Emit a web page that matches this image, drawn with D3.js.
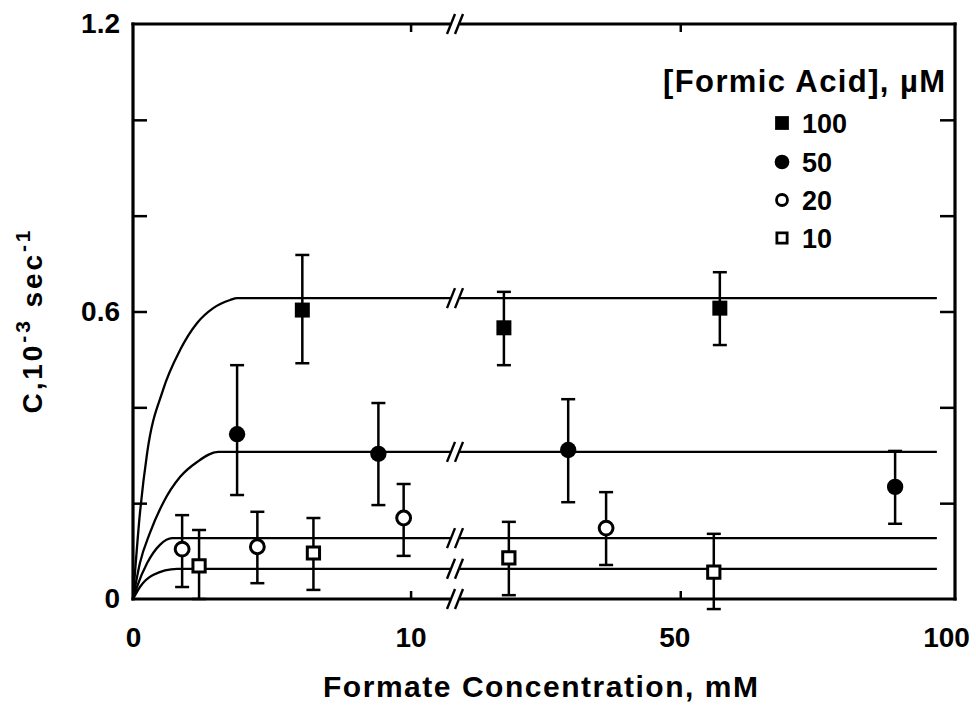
<!DOCTYPE html>
<html>
<head>
<meta charset="utf-8">
<script src="https://cdn.jsdelivr.net/npm/d3@7"></script>
<style>
  body { margin: 0; background: #fff; }
  svg { display: block; }
  text { font-family: "Liberation Sans", Arial, Helvetica, sans-serif; font-weight: bold; fill: #000; }
</style>
</head>
<body>
<div id="chart"></div>
<script>
// ---- values ----
// legend: [Formic Acid], µM
const seriesNames = ["100", "50", "20", "10"];

// points: [formate mM, C, error low, error high]
const pts100 = [[6.10, 0.603, 0.492, 0.718], [17.9, 0.566, 0.488, 0.641], [57.2, 0.607, 0.530, 0.682]];
const pts50 = [[3.75, 0.344, 0.217, 0.488], [8.84, 0.303, 0.196, 0.409], [29.6, 0.311, 0.202, 0.417], [89.1, 0.234, 0.157, 0.309]];
const pts20 = [[1.77, 0.104, 0.025, 0.175], [4.48, 0.109, 0.033, 0.182], [9.75, 0.169, 0.090, 0.240], [36.5, 0.148, 0.071, 0.223]];
const pts10 = [[2.38, 0.069, 0.0, 0.144], [6.50, 0.096, 0.019, 0.169], [18.8, 0.086, 0.008, 0.161], [56.1, 0.056, -0.021, 0.136]];

// fitted curves, rising part up to where they level off
const fit100 = [[0, 0], [0.25, 0.179], [0.51, 0.305], [1.08, 0.436], [1.70, 0.520], [2.31, 0.576], [2.89, 0.607], [3.50, 0.624], [3.75, 0.628]];
const fit50 = [[0, 0], [0.25, 0.075], [0.61, 0.138], [1.08, 0.200], [1.70, 0.255], [2.31, 0.286], [3.07, 0.307]];
const fit20 = [[0, 0], [0.14, 0.025], [0.51, 0.075], [0.97, 0.113], [1.41, 0.127]];
const fit10 = [[0, 0], [0.25, 0.025], [0.72, 0.050], [1.59, 0.063]];
const plateaus = [0.628, 0.307, 0.127, 0.063];
const fitEnd = 96.7;

const yMinorTicks = [0.2, 0.4, 0.6, 0.8, 1.0];
const yLabelTicks = [0, 0.6, 1.2];
const xLeftTicks = [0, 10];
const xRightTicks = [50, 100];

const allPts = [pts100, pts50, pts20, pts10];
const allFits = [fit100, fit50, fit20, fit10];

// ---- layout ----
const width = 976, height = 708;
const svg = d3.select("#chart").append("svg")
  .attr("width", width)
  .attr("height", height)
  .style("background", "#fff");

// broken x axis: two linear pieces meeting at the "//"
const xBreakVal = 11.6;
const xLeft = d3.scaleLinear().domain([0, xBreakVal]).range([133, 455]);
const xRight = d3.scaleLinear().domain([9, 100]).range([455, 955]);
const x = (v) => (v <= xBreakVal ? xLeft(v) : xRight(v));
const y = d3.scaleLinear().domain([0, 1.2]).range([599, 24]);

const x0 = xLeft.range()[0], x1 = xRight.range()[1];
const y0 = y.range()[0], y1 = y.range()[1];
const xBreak = xLeft.range()[1];

// marker styles per series
const shapes = [d3.symbolSquare, d3.symbolCircle, d3.symbolCircle, d3.symbolSquare];
const fills = ["#000", "#000", "#fff", "#fff"];
const sizes = [225, 210, 150, 150];
const strokes = [0, 0, 3, 3];

// ---- fitted lines ----
const line = d3.line()
  .x((d) => xLeft(d[0]))
  .y((d) => y(d[1]))
  .curve(d3.curveMonotoneX);

const fitG = svg.append("g").attr("fill", "none").attr("stroke", "#000").attr("stroke-width", 2.3);
allFits.forEach((fit, i) => {
  fitG.append("path").attr("d", line(fit.concat([[xBreakVal, plateaus[i]]])));
  fitG.append("line")
    .attr("x1", xRight(xRight.domain()[0]))
    .attr("x2", xRight(fitEnd))
    .attr("y1", y(plateaus[i]))
    .attr("y2", y(plateaus[i]));
});

// ---- frame ----
const frame = svg.append("g").attr("stroke", "#000").attr("stroke-width", 3.2).attr("stroke-linecap", "square");
frame.append("line").attr("x1", x0).attr("x2", x0).attr("y1", y0).attr("y2", y1);
frame.append("line").attr("x1", x1).attr("x2", x1).attr("y1", y0).attr("y2", y1);
frame.append("line").attr("x1", x0).attr("x2", x1).attr("y1", y0).attr("y2", y0);
frame.append("line").attr("x1", x0).attr("x2", x1).attr("y1", y1).attr("y2", y1);

// "//" break marks on the axis lines and each plateau
function drawBreak(cy) {
  const g = svg.append("g");
  g.append("rect")
    .attr("x", xBreak - 5).attr("y", cy - 3)
    .attr("width", 10).attr("height", 6)
    .attr("fill", "#fff");
  [-4, 4].forEach((off) => {
    g.append("line")
      .attr("x1", xBreak + off - 4).attr("y1", cy + 10)
      .attr("x2", xBreak + off + 4).attr("y2", cy - 10)
      .attr("stroke", "#000").attr("stroke-width", 2.4);
  });
}
[0, 1.2].concat(plateaus).forEach((v) => drawBreak(y(v)));

// ---- ticks (inward) ----
function styleAxis(sel) {
  sel.select(".domain").remove();
  sel.selectAll("line").attr("stroke", "#000").attr("stroke-width", 2.5);
  sel.selectAll("text").attr("font-size", 28).attr("fill", "#000")
    .attr("font-family", '"Liberation Sans", Arial, sans-serif').attr("font-weight", "bold");
}

svg.append("g").attr("transform", `translate(${x0},0)`)
  .call(d3.axisRight(y).tickValues(yMinorTicks).tickSize(14).tickFormat(""))
  .call(styleAxis);
svg.append("g").attr("transform", `translate(${x1},0)`)
  .call(d3.axisLeft(y).tickValues(yMinorTicks).tickSize(15).tickFormat(""))
  .call(styleAxis);

[[xLeft, [10]], [xRight, [50]]].forEach(([sc, vals]) => {
  svg.append("g").attr("transform", `translate(0,${y0})`)
    .call(d3.axisTop(sc).tickValues(vals).tickSize(8).tickFormat(""))
    .call(styleAxis);
  svg.append("g").attr("transform", `translate(0,${y1})`)
    .call(d3.axisBottom(sc).tickValues(vals).tickSize(8).tickFormat(""))
    .call(styleAxis);
});

// ---- tick labels ----
svg.append("g").attr("transform", `translate(${x0},0)`)
  .call(d3.axisLeft(y).tickValues(yLabelTicks).tickSize(0).tickPadding(13).tickFormat(d3.format("")))
  .call(styleAxis);

svg.append("g").attr("transform", `translate(0,${y0})`)
  .call(d3.axisBottom(xLeft).tickValues(xLeftTicks).tickSize(0).tickPadding(28))
  .call(styleAxis);
const xRightLabels = svg.append("g").attr("transform", `translate(0,${y0})`)
  .call(d3.axisBottom(xRight).tickValues(xRightTicks).tickSize(0).tickPadding(28))
  .call(styleAxis);
// last label sits against the window edge: pull it in like the original
xRightLabels.selectAll(".tick text").filter((d) => d === 100).attr("dx", -9);
xRightLabels.selectAll(".tick text").filter((d) => d === 50).attr("dx", -6);

// ---- error bars + markers ----
const capW = 7;
allPts.forEach((pts, i) => {
  const g = svg.append("g");
  const eb = g.selectAll(".err").data(pts).join("g")
    .attr("class", "err")
    .attr("stroke", "#000")
    .attr("stroke-width", 2.5);
  eb.append("line")
    .attr("x1", (d) => x(d[0])).attr("x2", (d) => x(d[0]))
    .attr("y1", (d) => y(d[2])).attr("y2", (d) => y(d[3]));
  eb.append("line")
    .attr("x1", (d) => x(d[0]) - capW).attr("x2", (d) => x(d[0]) + capW)
    .attr("y1", (d) => y(d[3])).attr("y2", (d) => y(d[3]));
  eb.append("line")
    .attr("x1", (d) => x(d[0]) - capW).attr("x2", (d) => x(d[0]) + capW)
    .attr("y1", (d) => y(d[2])).attr("y2", (d) => y(d[2]));

  g.selectAll(".mark").data(pts).join("path")
    .attr("class", "mark")
    .attr("transform", (d) => `translate(${x(d[0])},${y(d[1])})`)
    .attr("d", d3.symbol().type(shapes[i]).size(sizes[i]))
    .attr("fill", fills[i])
    .attr("stroke", "#000")
    .attr("stroke-width", strokes[i]);
});

// ---- legend ----
const legend = svg.append("g");
legend.append("text")
  .attr("x", 663).attr("y", 92)
  .attr("font-size", 31)
  .attr("textLength", 282).attr("lengthAdjust", "spacing")
  .text("[Formic Acid], µM");

const legendBase = [133, 172, 210, 248];
const legendSizes = [190, 170, 95, 105];
const legendStrokes = [0, 0, 2.8, 2.8];
seriesNames.forEach((name, i) => {
  legend.append("path")
    .attr("transform", `translate(782,${legendBase[i] - 10})`)
    .attr("d", d3.symbol().type(shapes[i]).size(legendSizes[i]))
    .attr("fill", fills[i])
    .attr("stroke", "#000")
    .attr("stroke-width", legendStrokes[i]);
  legend.append("text")
    .attr("x", 802).attr("y", legendBase[i])
    .attr("font-size", 27)
    .text(name);
});

// ---- axis titles ----
svg.append("text")
  .attr("x", 323).attr("y", 697)
  .attr("font-size", 30)
  .attr("textLength", 435).attr("lengthAdjust", "spacing")
  .text("Formate  Concentration, mM");

const yTitle = svg.append("text")
  .attr("transform", "translate(42,322) rotate(-90)")
  .attr("text-anchor", "middle")
  .attr("font-size", 28)
  .attr("textLength", 183).attr("lengthAdjust", "spacing");
yTitle.append("tspan").text("C,10");
yTitle.append("tspan").attr("dy", -12).attr("font-size", 21).text("-3");
yTitle.append("tspan").attr("dy", 12).text(" sec");
yTitle.append("tspan").attr("dy", -12).attr("font-size", 21).text("-1");
</script>
</body>
</html>
